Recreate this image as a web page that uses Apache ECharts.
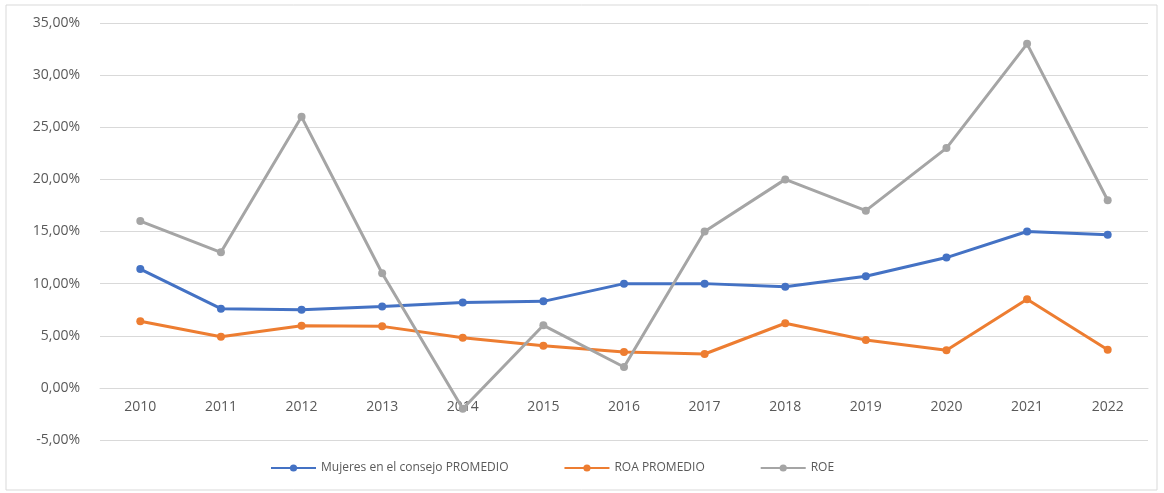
<!DOCTYPE html>
<html>
<head>
<meta charset="utf-8">
<script src="https://cdn.jsdelivr.net/npm/echarts@6/dist/echarts.min.js"></script>
<style>html,body{margin:0;padding:0;background:#fff}#c{width:1164px;height:493px}</style>
</head>
<body>
<div id="c"></div>
<script>
const categories = ['2010','2011','2012','2013','2014','2015','2016','2017','2018','2019','2020','2021','2022'];
const mujeres = [11.4, 7.6, 7.5, 7.8, 8.2, 8.3, 10.0, 10.0, 9.7, 10.7, 12.5, 15.0, 14.7];
const roa = [6.4, 4.9, 5.95, 5.9, 4.8, 4.05, 3.45, 3.25, 6.2, 4.6, 3.6, 8.5, 3.65];
const roe = [16.0, 13.0, 26.0, 11.0, -2.0, 6.0, 2.0, 15.0, 20.0, 17.0, 23.0, 33.0, 18.0];
const seriesNames = ['Mujeres en el consejo PROMEDIO', 'ROA PROMEDIO', 'ROE'];
const colors = ['#4472C4', '#ED7D31', '#A5A5A5'];

const chart = echarts.init(document.getElementById('c'));
const fmt = v => v.toFixed(2).replace('.', ',') + '%';
const mk = (name, data, color) => ({
  name, type: 'line', data,
  symbol: 'circle', symbolSize: 8,
  lineStyle: { width: 3, color },
  itemStyle: { color },
  z: 3
});
chart.setOption({
  animation: false,
  textStyle: { fontFamily: 'Open Sans' },
  graphic: [{
    type: 'rect', shape: { x: 6, y: 5, width: 1151, height: 485 },
    style: { fill: 'none', stroke: '#d9d9d9', lineWidth: 1 }, z: 0
  }],
  grid: { left: 100, right: 16, top: 23, bottom: 53 },
  legend: {
    bottom: 14, left: 265,
    itemWidth: 45, itemHeight: 9, itemGap: 55,
    textStyle: { color: '#595959', fontSize: 12 },
    data: seriesNames
  },
  xAxis: {
    type: 'category', data: categories, boundaryGap: true,
    offset: -52,
    axisLine: { show: true, onZero: false, lineStyle: { color: '#d9d9d9' } },
    axisTick: { show: false },
    axisLabel: { color: '#595959', fontSize: 14, margin: 12 }
  },
  yAxis: {
    type: 'value', min: -5, max: 35, interval: 5,
    axisLabel: { color: '#595959', fontSize: 14, margin: 20, formatter: fmt },
    splitLine: { lineStyle: { color: '#d9d9d9', width: 1 } },
    axisLine: { show: false }, axisTick: { show: false }
  },
  series: [mk(seriesNames[0], mujeres, colors[0]), mk(seriesNames[1], roa, colors[1]), mk(seriesNames[2], roe, colors[2])]
});
</script>
</body>
</html>
